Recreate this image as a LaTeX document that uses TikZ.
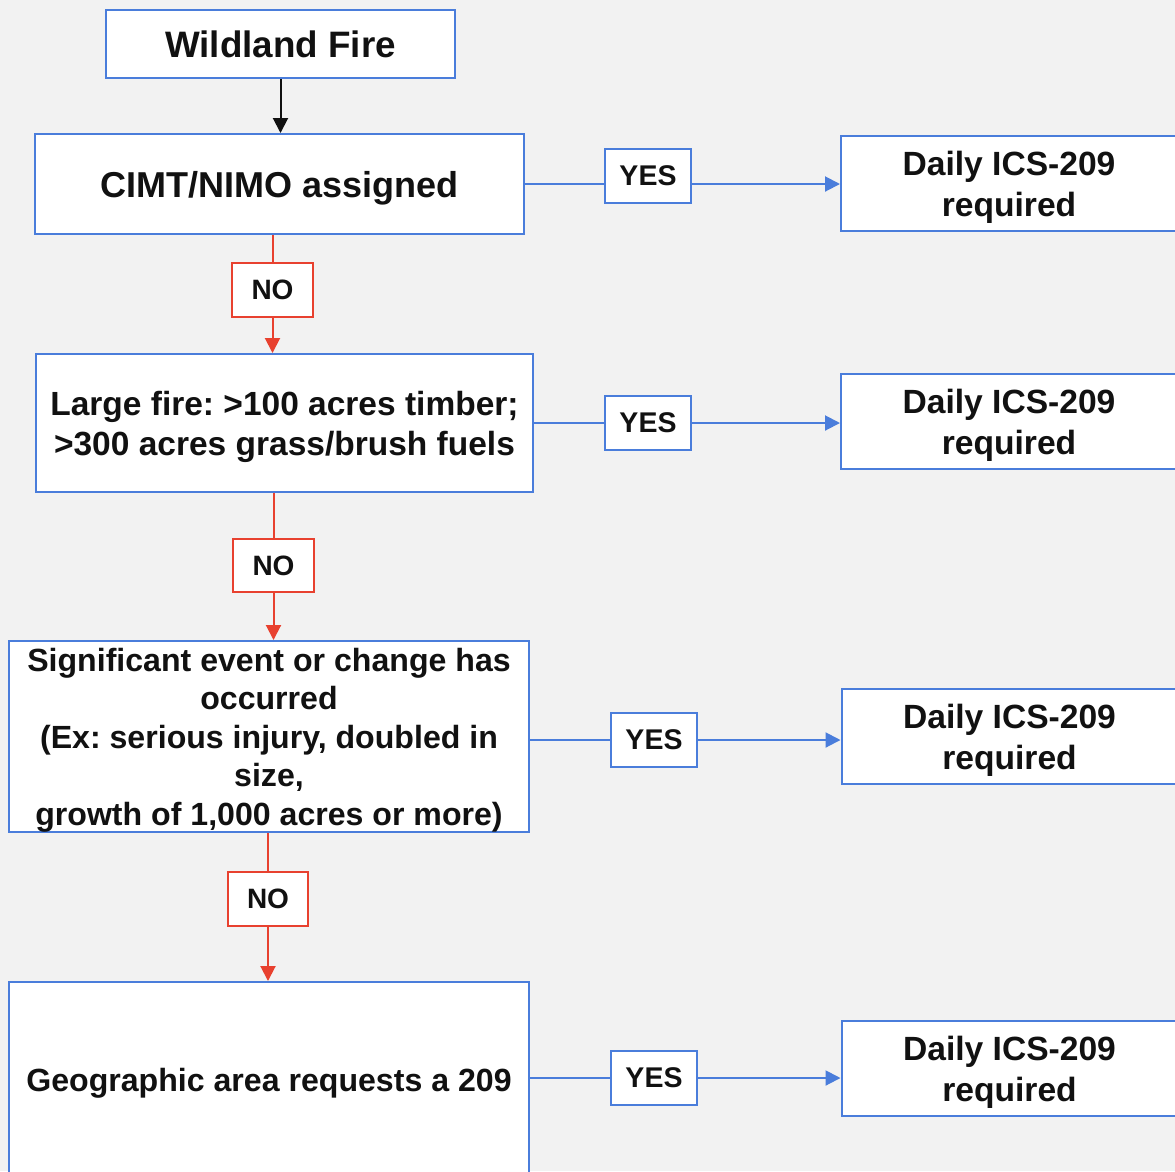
\documentclass[tikz,border=0pt]{standalone}
\usepackage{fontspec}
\setmainfont{Liberation Sans}
\frenchspacing
\usetikzlibrary{arrows.meta}
\definecolor{bg}{RGB}{242,242,242}
\definecolor{bl}{RGB}{74,125,219}
\definecolor{rd}{RGB}{232,65,47}
\definecolor{ink}{RGB}{17,17,17}
\begin{document}
\begin{tikzpicture}[x=1pt,y=-1pt,
  box/.style={draw=bl,line width=2pt,fill=white,inner sep=0pt,align=center,text=ink,text depth=0pt,font=\bfseries},
  nobox/.style={draw=rd,line width=2pt,fill=white,inner sep=0pt,minimum width=81pt,minimum height=54pt,text=ink,font=\fontsize{28}{32}\selectfont\bfseries},
  yesbox/.style={draw=bl,line width=2pt,fill=white,inner sep=0pt,minimum width=86pt,minimum height=54pt,text=ink,font=\fontsize{28.5}{32}\selectfont\bfseries},
  dailybox/.style={box,minimum width=336pt,minimum height=95pt,font=\fontsize{33.6}{41}\selectfont\bfseries},
  bluearrow/.style={draw=bl,line width=2pt,-{Triangle[length=15pt,width=15pt]}},
  blueline/.style={draw=bl,line width=2pt},
  redarrow/.style={draw=rd,line width=2pt,-{Triangle[length=15pt,width=15pt]}},
  redline/.style={draw=rd,line width=2pt},
  blackarrow/.style={draw=ink,line width=2pt,-{Triangle[length=15pt,width=15pt]}}
]
\fill[bg] (0,0) rectangle (1175,1171);
\useasboundingbox (0,0) rectangle (1175,1171);
\clip (0,0) rectangle (1175,1171);

\node[box,minimum width=349pt,minimum height=68pt,font=\fontsize{36.8}{42}\selectfont\bfseries] (wf) at (280.5,44) {Wildland Fire};
\node[box,minimum width=489pt,minimum height=100pt,font=\fontsize{36}{42}\selectfont\bfseries] (cimt) at (279.5,184) {CIMT/NIMO assigned};
\node[box,minimum width=497pt,minimum height=138pt,font=\fontsize{33.5}{40}\selectfont\bfseries] (large) at (284.5,423) {Large fire: >100 acres timber;\\>300 acres grass/brush fuels};
\node[box,minimum width=520pt,minimum height=191pt,font=\fontsize{32.1}{38.5}\selectfont\bfseries] (sig) at (269,736.5) {Significant event or change has\\occurred\\(Ex: serious injury, doubled in\\size,\\growth of 1,000 acres or more)};
\node[box,minimum width=520pt,minimum height=196pt,font=\fontsize{32.1}{38.5}\selectfont\bfseries] (geo) at (269,1080) {Geographic area requests a 209};

\node[nobox] (no1) at (272.5,290) {NO};
\node[nobox,minimum height=53pt] (no2) at (273.5,565.5) {NO};
\node[nobox,minimum width=80pt] (no3) at (268,899) {NO};

\node[yesbox] (yes1) at (648,176) {YES};
\node[yesbox] (yes2) at (648,423) {YES};
\node[yesbox] (yes3) at (654,740) {YES};
\node[yesbox] (yes4) at (654,1078) {YES};

\node[dailybox] (d1) at (1009,183.5) {Daily ICS-209\\required};
\node[dailybox] (d2) at (1009,421.5) {Daily ICS-209\\required};
\node[dailybox] (d3) at (1009.5,736.5) {Daily ICS-209\\required};
\node[dailybox] (d4) at (1009.5,1068.5) {Daily ICS-209\\required};

% black
\draw[blackarrow] (wf.south) -- (wf.south |- cimt.north);
% red NO connectors
\draw[redline] (cimt.south -| no1) -- (no1.north);
\draw[redarrow] (no1.south) -- (large.north -| no1);
\draw[redline] (large.south -| no2) -- (no2.north);
\draw[redarrow] (no2.south) -- (sig.north -| no2);
\draw[redline] (sig.south -| no3) -- (no3.north);
\draw[redarrow] (no3.south) -- (geo.north -| no3);
% blue YES connectors
\draw[blueline] (cimt.east) -- (yes1.west |- cimt.east);
\draw[bluearrow] (yes1.east |- cimt.east) -- (d1.west |- cimt.east);
\draw[blueline] (large.east) -- (yes2.west);
\draw[bluearrow] (yes2.east) -- (d2.west |- yes2.east);
\draw[blueline] (sig.east |- yes3.west) -- (yes3.west);
\draw[bluearrow] (yes3.east) -- (d3.west |- yes3.east);
\draw[blueline] (geo.east |- yes4.west) -- (yes4.west);
\draw[bluearrow] (yes4.east) -- (d4.west |- yes4.east);
\end{tikzpicture}
\end{document}
